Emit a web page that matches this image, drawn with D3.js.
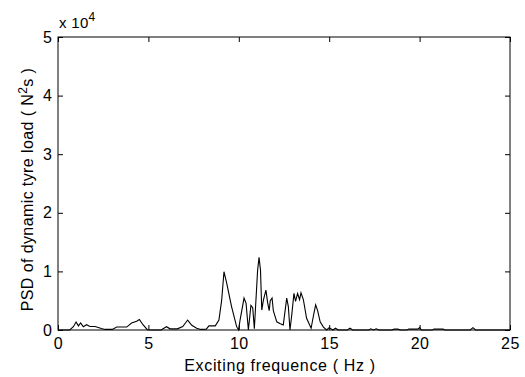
<!DOCTYPE html>
<html>
<head>
<meta charset="utf-8">
<script src="https://cdn.jsdelivr.net/npm/d3@7"></script>
<style>
  body { margin: 0; background: #fff; }
  text { font-family: "Liberation Sans", Arial, sans-serif; fill: #000; }
</style>
</head>
<body>
<script>
// exciting frequency (Hz)
const freq = [0, 0.3, 0.65, 0.85, 1.0, 1.13, 1.25, 1.4, 1.58, 1.77, 2.05, 2.4, 2.6, 3.0, 3.25, 3.8,
  4.07, 4.35, 4.5, 4.7, 4.94, 5.2, 5.7, 6.0, 6.2, 6.6, 6.9, 7.17, 7.4, 7.67, 7.9, 8.2, 8.35, 8.7,
  8.9, 9.05, 9.18, 9.33, 9.6, 9.88, 9.99, 10.07, 10.29, 10.4, 10.53, 10.67, 10.77, 10.86, 11.04,
  11.12, 11.2, 11.27, 11.36, 11.5, 11.6, 11.68, 11.74, 11.84, 11.91, 12.1, 12.27, 12.46, 12.65,
  12.74, 12.83, 12.92, 13.05, 13.14, 13.25, 13.36, 13.44, 13.57, 13.75, 14.0, 14.12, 14.25, 14.36,
  14.5, 14.68, 14.86, 15.0, 15.2, 15.35, 15.5, 16.0, 16.15, 16.3, 17.2, 17.3, 17.45, 17.6, 17.75,
  18.45, 18.6, 18.8, 18.95, 19.3, 19.4, 19.9, 20.0, 20.1, 20.7, 20.8, 21.3, 21.4, 22.8, 22.95, 23.1, 25];

// PSD of dynamic tyre load (N^2 s)
const psd = [0, 0, 0, 570, 1370, 700, 1200, 570, 900, 600, 600, 250, 100, 100, 500, 500,
  1200, 1500, 1800, 900, 50, 0, 0, 570, 200, 200, 600, 1700, 800, 300, 100, 150, 700, 700,
  1700, 5000, 9950, 8000, 4000, 570, 0, 1700, 5450, 4600, 0, 4200, 3800, 200, 10200,
  12400, 10200, 3400, 5100, 6800, 4600, 3300, 5000, 5450, 3300, 1400, 1100, 850, 5450,
  4000, 0, 2300, 6250, 4900, 6250, 5200, 6350, 5200, 2000, 300, 2300, 4300, 3300,
  1400, 500, 0, 400, 0, 300, 0, 0, 300, 0, 0, 200, 0, 200, 0,
  0, 150, 150, 0, 0, 150, 150, 400, 0, 0, 150, 150, 0, 0, 400, 0, 0];

const xTicks = [0, 5, 10, 15, 20, 25];
const yTicks = [0, 10000, 20000, 30000, 40000, 50000];

const W = 525, H = 377;
const margin = {top: 37, left: 58, right: 15, bottom: 47};
const width = W - margin.left - margin.right;
const height = H - margin.top - margin.bottom;

const svg = d3.select("body").append("svg")
    .attr("width", W)
    .attr("height", H)
  .append("g")
    .attr("transform", `translate(${margin.left}, ${margin.top})`);

const x = d3.scaleLinear().domain([0, 25]).range([0, width]);
const y = d3.scaleLinear().domain([0, 50000]).range([height, 0]);

// axes with inward ticks on all sides
const fmtY = d => d / 10000;

svg.append("g")
    .attr("transform", `translate(0, ${height})`)
    .call(d3.axisBottom(x).tickValues(xTicks).tickSize(-5).tickSizeOuter(0).tickPadding(8))
    .call(g => g.selectAll("text").style("font-size", "16px").style("letter-spacing", "0.5px"));

svg.append("g")
    .call(d3.axisTop(x).tickValues(xTicks).tickSize(-5).tickSizeOuter(0).tickFormat(""));

svg.append("g")
    .call(d3.axisLeft(y).tickValues(yTicks).tickSize(-5).tickSizeOuter(0).tickPadding(6).tickFormat(fmtY))
    .call(g => g.selectAll("text").style("font-size", "16px"));

svg.append("g")
    .attr("transform", `translate(${width}, 0)`)
    .call(d3.axisRight(y).tickValues(yTicks).tickSize(-5).tickSizeOuter(0).tickFormat(""));

svg.selectAll(".domain").remove();
svg.selectAll(".tick line").attr("stroke", "#000");

svg.append("rect")
    .attr("width", width)
    .attr("height", height)
    .attr("fill", "none")
    .attr("stroke", "#000");

// the PSD curve
const line = d3.line()
    .x((d, i) => x(freq[i]))
    .y(d => y(d));

svg.append("path")
    .datum(psd)
    .attr("fill", "none")
    .attr("stroke", "#000")
    .attr("stroke-width", 1.1)
    .attr("d", line);

// exponent label
const ex = svg.append("text")
    .attr("x", 1)
    .attr("y", -9)
    .style("font-size", "15px")
    .style("letter-spacing", "0.3px");
ex.append("tspan").text("x 10");
ex.append("tspan").attr("dy", -7).style("font-size", "12px").text("4");

// axis titles
svg.append("text")
    .attr("x", width / 2 - 4)
    .attr("y", height + 41)
    .attr("text-anchor", "middle")
    .style("font-size", "16px")
    .style("letter-spacing", "0.65px")
    .text("Exciting frequence ( Hz )");

const yl = svg.append("text")
    .attr("transform", `translate(${-25}, ${height / 2 + 6}) rotate(-90)`)
    .attr("text-anchor", "middle")
    .style("font-size", "16px")
    .style("letter-spacing", "0.4px");
yl.append("tspan").text("PSD of dynamic tyre load ( N");
yl.append("tspan").attr("dy", -6).style("font-size", "12px").text("2");
yl.append("tspan").attr("dy", 6).text("s )");
</script>
</body>
</html>
